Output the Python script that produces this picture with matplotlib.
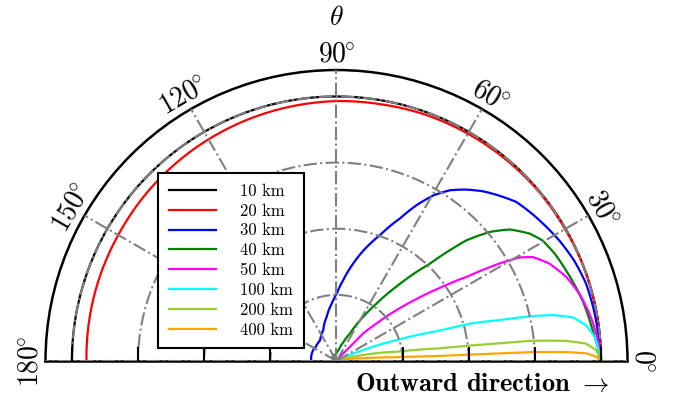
import numpy as np
import matplotlib
matplotlib.use("Agg")
import matplotlib.pyplot as plt

plt.rcParams['font.family'] = 'serif'
plt.rcParams['font.serif'] = ['cmr10']
plt.rcParams['mathtext.fontset'] = 'cm'
plt.rcParams['axes.unicode_minus'] = False

# curves: angle in degrees, radial value
th_10 = [0, 10, 20, 30, 40, 50, 60, 70, 80, 90, 100, 110, 120, 130, 140, 150, 160, 170, 180]
r_10 = [4.0, 4.0, 4.0, 4.0, 4.0, 4.0, 4.0, 4.0, 4.0, 4.0, 4.0, 4.0, 4.0, 4.0, 4.0, 4.0, 4.0, 4.0, 4.0]

th_20 = [0, 10, 20, 30, 40, 50, 60, 70, 80, 90, 100, 110, 120, 130, 140, 150, 160, 170, 180]
r_20 = [4.00, 4.00, 4.00, 3.99, 3.99, 3.98, 3.97, 3.96, 3.94, 3.93, 3.91, 3.89, 3.87,
        3.85, 3.83, 3.81, 3.80, 3.79, 3.78]

th_30 = [0, 5, 10, 17.3, 23, 28.4, 33, 37.7, 41.5, 45.4, 49.2, 52.9, 56.4, 59.7, 62.8,
         66, 71, 75.2, 80.2, 85.2, 89.8, 94.8, 102.5, 113, 128, 145, 155, 165, 174, 180]
r_30 = [4.0, 3.98, 3.97, 3.95, 3.90, 3.83, 3.76, 3.69, 3.63, 3.51, 3.39, 3.25, 3.10, 2.90,
        2.65, 2.36, 2.01, 1.78, 1.50, 1.23, 1.02, 0.87, 0.685, 0.51, 0.40, 0.38, 0.39,
        0.39, 0.386, 0.38]

th_40 = [0, 6.9, 13.9, 21.6, 26, 30.3, 33.4, 37.2, 40.1, 42.9, 46.3, 51, 55.1, 58.8,
         64, 70, 78, 88, 100, 120, 140, 160, 180]
r_40 = [4.0, 3.90, 3.83, 3.73, 3.68, 3.61, 3.50, 3.29, 3.03, 2.68, 2.02, 1.46, 1.06,
        0.78, 0.46, 0.30, 0.18, 0.12, 0.10, 0.10, 0.08, 0.05, 0.0]

th_50 = [0, 6.1, 10.7, 15.5, 20.1, 24.6, 27.9, 29.5, 30.9, 32.9, 35.5, 38, 40.3, 43,
         45.9, 46.6, 48, 52, 60, 75, 90, 180]
r_50 = [4.0, 3.95, 3.89, 3.81, 3.70, 3.54, 3.36, 3.18, 2.87, 2.34, 1.88, 1.50, 1.19,
        0.85, 0.58, 0.30, 0.15, 0.06, 0.04, 0.02, 0.0, 0.0]

th_100 = [0, 1.7, 5.4, 8.2, 10.5, 12.0, 12.9, 14.1, 15.6, 16.4, 19.2, 22.3, 25, 30, 45, 90, 180]
r_100 = [4.0, 3.98, 3.92, 3.81, 3.63, 3.34, 3.05, 2.54, 2.11, 1.63, 0.96, 0.44, 0.15,
         0.05, 0.02, 0.0, 0.0]

th_200 = [0, 0.9, 2.4, 4.0, 5.0, 5.9, 6.2, 6.6, 7.0, 8.8, 12.6, 16, 25, 90, 180]
r_200 = [4.0, 3.97, 3.93, 3.78, 3.49, 2.98, 2.48, 2.04, 1.57, 0.92, 0.41, 0.15, 0.03, 0.0, 0.0]

th_400 = [0, 0.95, 1.76, 2.24, 2.62, 2.65, 2.75, 2.8, 3.5, 5.8, 12, 180]
r_400 = [4.0, 3.93, 3.78, 3.47, 2.97, 2.47, 2.03, 1.57, 0.91, 0.41, 0.05, 0.0]

labels = ['10 km', '20 km', '30 km', '40 km', '50 km', '100 km', '200 km', '400 km']
colors = ['black', 'red', 'blue', 'green', 'magenta', 'cyan', 'yellowgreen', 'orange']
thetas = [th_10, th_20, th_30, th_40, th_50, th_100, th_200, th_400]
radii = [r_10, r_20, r_30, r_40, r_50, r_100, r_200, r_400]

theta_ticks = [0, 30, 60, 90, 120, 150, 180]
theta_labels = [r'$%d^{\!\!\circ}$' % t for t in theta_ticks]
r_ticks = [1, 2, 3, 4]

fig = plt.figure(figsize=(6.78, 4.0), dpi=100)
# the half disc sits in the middle of a square box
ax = fig.add_axes([0.0671, -0.2663, 0.8584, 1.455], projection='polar')
ax.set_thetamin(0)
ax.set_thetamax(180)
ax.set_rlim(0, 4.4)
ax.set_axisbelow(False)

for th, r, c, lab in zip(thetas, radii, colors, labels):
    ln, = ax.plot(np.deg2rad(th), r, color=c, lw=1.6, label=lab)
    # let the polar transform draw curved segments between the points
    ln.get_path()._interpolation_steps = 40

ax.set_thetagrids(theta_ticks, theta_labels, fontsize=20)
ax.set_rticks(r_ticks)
ax.set_yticklabels([])
ax.grid(True, color='gray', ls='-.', lw=1.5)
ax.tick_params(axis='x', direction='in', length=6, width=1.2, pad=4, labelrotation='auto')
ax.tick_params(axis='y', left=True, right=True, direction='in', length=10, width=1.5)
for sp in ax.spines.values():
    sp.set_linewidth(1.8)

leg = ax.legend(loc='upper left', bbox_to_anchor=(158 / 678, 1 - 172.7 / 400),
                bbox_transform=fig.transFigure, borderaxespad=0, fancybox=False,
                edgecolor='black', framealpha=1, handlelength=2.8, handletextpad=1.5,
                labelspacing=0.27, borderpad=0.65, fontsize=12)
leg.get_frame().set_linewidth(1.5)

fig.text(336.5 / 678, 1 - 18 / 400, r'$\theta$', ha='center', va='center', fontsize=20)
fig.text(482 / 678, 1 - 385 / 400, r'Outward direction $\rightarrow$', ha='center',
         va='center', fontsize=19, fontfamily='cmb10')

fig.savefig('out.png', dpi=100)
